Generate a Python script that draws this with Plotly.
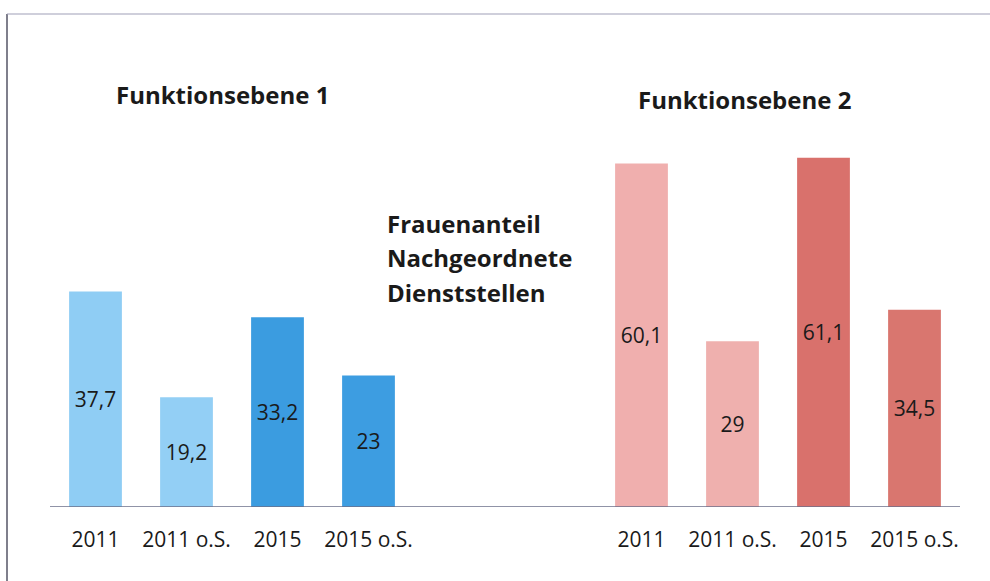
import plotly.graph_objects as go

# data
kategorien = ['2011', '2011 o.S.', '2015', '2015 o.S.']
ebene1 = [37.7, 19.2, 33.2, 23]
ebene2 = [60.1, 29, 61.1, 34.5]
farben1 = ['#8fcdf4', '#93cff5', '#3b9ce0', '#3d9de1']
farben2 = ['#f0afae', '#efb0ae', '#d9716c', '#d9766f']
titel1 = 'Funktionsebene 1'
titel2 = 'Funktionsebene 2'
mittelzeilen = ['Frauenanteil', 'Nachgeordnete', 'Dienststellen']

FONT = 'Open Sans'


def fmt(v):
    return f'{v:g}'.replace('.', ',')


x1 = list(range(len(kategorien)))
x2 = [i + len(kategorien) + 2 for i in x1]

fig = go.Figure()
for xs, ys, cols in [(x1, ebene1, farben1), (x2, ebene2, farben2)]:
    fig.add_trace(go.Bar(
        x=xs,
        y=ys,
        width=0.58,
        marker=dict(color=cols, line=dict(width=0)),
        text=[fmt(v) for v in ys],
        textposition='inside',
        insidetextanchor='middle',
        textangle=0,
        textfont=dict(family=FONT, size=21, color='#1a1a1a'),
        hoverinfo='skip',
        showlegend=False,
    ))

# drei Zeilen des Mitteltexts einzeln, damit der Zeilenabstand passt
mitte = [
    dict(text=f'<b>{zeile}</b>', x=(385 - 50) / 910, y=(507 - (223 + 34.5 * i)) / 400,
         xref='paper', yref='paper', showarrow=False, align='left',
         font=dict(size=24), xanchor='left', yanchor='middle')
    for i, zeile in enumerate(mittelzeilen)
]

fig.update_layout(
    width=990,
    height=581,
    margin=dict(l=50, r=30, t=107, b=74),
    paper_bgcolor='white',
    plot_bgcolor='white',
    font=dict(family=FONT, color='#1a1a1a'),
    uniformtext=dict(minsize=8, mode='show'),
    xaxis=dict(
        range=[-0.5, 9.5],
        tickvals=x1 + x2,
        ticktext=kategorien + kategorien,
        tickfont=dict(size=21),
        ticklabelstandoff=18,
        showgrid=False,
        zeroline=False,
        showline=False,
        ticks='',
        fixedrange=True,
    ),
    yaxis=dict(
        range=[0, 70],
        visible=False,
        fixedrange=True,
    ),
    shapes=[
        # Grundlinie der Balken
        dict(type='line', xref='x', yref='y', x0=-0.5, x1=9.5, y0=0, y1=0,
             line=dict(color='#6b6f8a', width=1.5)),
        # Rahmen links und oben
        dict(type='line', xref='paper', yref='paper',
             x0=(7 - 50) / 910, x1=(7 - 50) / 910, y0=-74 / 400, y1=(507 - 14) / 400,
             line=dict(color='#555566', width=1.5)),
        dict(type='line', xref='paper', yref='paper',
             x0=(7 - 50) / 910, x1=(990 - 50) / 910, y0=(507 - 14) / 400, y1=(507 - 14) / 400,
             line=dict(color='#a0a0b8', width=1.2)),
    ],
    annotations=[
        dict(text=f'<b>{titel1}</b>', x=(222 - 50) / 910, y=(507 - 94) / 400, xref='paper', yref='paper',
             showarrow=False, font=dict(size=24), xanchor='center', yanchor='middle'),
        dict(text=f'<b>{titel2}</b>', x=(744 - 50) / 910, y=(507 - 99) / 400, xref='paper', yref='paper',
             showarrow=False, font=dict(size=24), xanchor='center', yanchor='middle'),
    ] + mitte,
)

fig.write_html('out.html', config={'displayModeBar': False},
               post_script="document.body.style.margin='0';")
